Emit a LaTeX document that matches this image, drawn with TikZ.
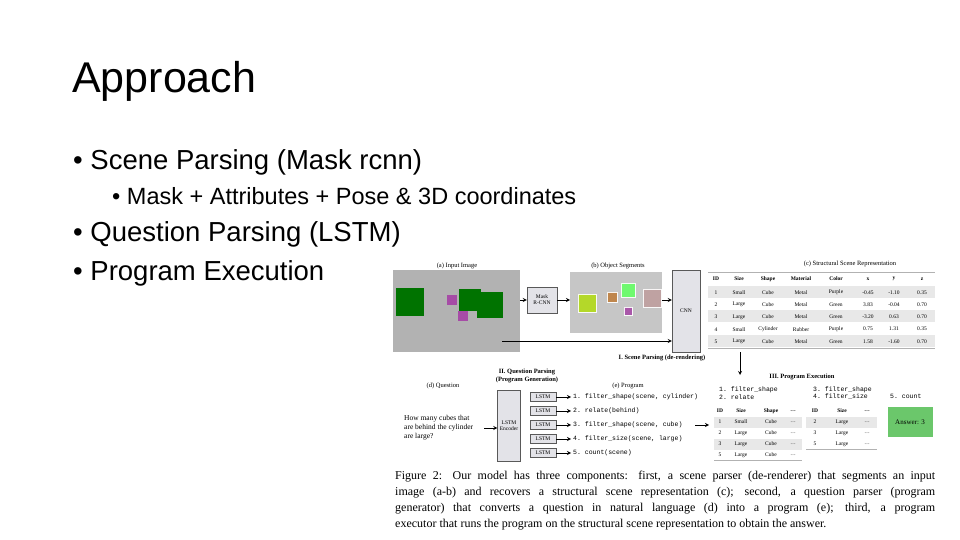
\documentclass[tikz,border=0pt]{standalone}
\usepackage{fontspec}
\setmainfont{Liberation Serif}
\setsansfont{Liberation Sans}
\setmonofont{Liberation Mono}
\usetikzlibrary{positioning}
\usetikzlibrary{calc}

\tikzset{
	slide/.style={font=\sffamily, anchor=west, inner sep=0},
	figtext/.style={font=\fontsize{6.5}{7.5}\selectfont, inner sep=0},
	figbold/.style={font=\fontsize{6.5}{7.5}\selectfont\bfseries, inner sep=0, align=center},
	code/.style={font=\ttfamily\fontsize{6.5}{7.5}\selectfont, inner sep=0, anchor=west},
	box/.style={draw=gray!70!black, fill=blue!8!gray!20, align=center, inner sep=0},
	lstm/.style={box, minimum width=26pt, minimum height=9pt, font=\fontsize{5.5}{6}\selectfont},
	cell/.style={font=\fontsize{5.5}{6}\selectfont, inner sep=0},
	arr/.style={->, >=stealth, line width=0.8pt}
}

\begin{document}
\begin{tikzpicture}[x=1pt, y=-1pt]
	\useasboundingbox[fill=white] (0,0) rectangle (960,540);

	% slide text
	\node [slide, font=\sffamily\fontsize{43}{46}\selectfont] (title) at (72,81) {Approach};
	\node [slide, font=\sffamily\fontsize{27.5}{30}\selectfont] (b1) at (73,162) {\textbullet\ Scene Parsing (Mask rcnn)};
	\node [slide, font=\sffamily\fontsize{23.5}{26}\selectfont] (b1a) at (112,196) {\textbullet\ Mask + Attributes + Pose \& 3D coordinates};
	\node [slide, font=\sffamily\fontsize{27.5}{30}\selectfont] (b2) at (73,234) {\textbullet\ Question Parsing (LSTM)};
	\node [slide, font=\sffamily\fontsize{27.5}{30}\selectfont] (b3) at (73,273) {\textbullet\ Program Execution};

	% I. scene parsing
	\node [figtext] at (457,266) (lbl_a){(a) Input Image};
	\node [fill=gray!60, minimum width=127pt, minimum height=82pt, inner sep=0, anchor=north west] at (393,270) (input){};
	\foreach \cx/\cy/\s/\c in {410/302/14/green!45!black, 490/305/13/green!45!black, 470/300/11/green!45!black, 452/300/5/violet!70, 463/316/5/violet!70}
		\fill [\c] (\cx-\s,\cy-\s) rectangle (\cx+\s,\cy+\s);
	\node [box, minimum width=30pt, minimum height=26pt, font=\fontsize{5.5}{6}\selectfont] at (542,300) (maskrcnn){Mask\\R-CNN};
	\node [figtext] at (618,266) (lbl_b){(b) Object Segments};
	\node [fill=gray!45, minimum width=92pt, minimum height=61pt, inner sep=0, anchor=north west] at (570,272) (segments){};
	\foreach \cx/\cy/\s/\c in {587/303/9/yellow!70!green, 612/297/5/orange!50!gray, 628/290/7/green!60, 652/298/9/pink!50!gray, 628/311/4/violet!70}
		\filldraw [fill=\c, draw=white, opacity=0.9] (\cx-\s,\cy-\s) rectangle (\cx+\s,\cy+\s);
	\node [box, minimum width=28pt, minimum height=82pt, font=\fontsize{5.5}{6}\selectfont] at (686,311) (cnn){CNN};
	\draw [arr] (input.east |- maskrcnn) -- (maskrcnn);
	\draw [arr] (maskrcnn) -- (segments.west |- maskrcnn);
	\draw [arr] (segments.east |- maskrcnn) -- (cnn.west |- maskrcnn);
	\coordinate (input_low) at (502,341);
	\draw [arr] (input_low) -- (cnn.west |- input_low);

	% structural scene table
	\node [figtext] at (850,264) (lbl_c){(c) Structural Scene Representation};
	\foreach \yy in {286,310,335} \fill [gray!18] (708,\yy) rectangle (935,\yy+12);
	\draw [gray!60] (708,272) -- (935,272);
	\draw [gray!60] (708,348) -- (935,348);
	\foreach \t/\xx in {ID/716, Size/739, Shape/768, Material/801, Color/836, x/868, y/894, z/922}
		\node [cell, font=\fontsize{5.5}{6}\selectfont\bfseries] at (\xx,279) {\t};
	\foreach \r/\a/\b/\c/\d/\e/\f/\g/\h in {1/1/Small/Cube/Metal/Purple/-0.45/-1.10/0.35, 2/2/Large/Cube/Metal/Green/3.83/-0.04/0.70, 3/3/Large/Cube/Metal/Green/-3.20/0.63/0.70, 4/4/Small/Cylinder/Rubber/Purple/0.75/1.31/0.35, 5/5/Large/Cube/Metal/Green/1.58/-1.60/0.70}
	{
		\pgfmathsetmacro{\yy}{280+12.3*\r}
		\node [cell] at (716,\yy) {\a};
		\node [cell] at (739,\yy) {\b};
		\node [cell] at (768,\yy) {\c};
		\node [cell] at (801,\yy) {\d};
		\node [cell] at (836,\yy) {\e};
		\node [cell] at (868,\yy) {\f};
		\node [cell] at (894,\yy) {\g};
		\node [cell] at (922,\yy) {\h};
	}
	\node [figbold] at (662,358) (lbl_one){I. Scene Parsing (de-rendering)};
	\coordinate (down_top) at (740,352);
	\coordinate (down_end) at (740,375);
	\draw [arr] (down_top) -- (down_end);

	% II. question parsing
	\node [figbold] at (527,376) (lbl_two){II. Question Parsing\\(Program Generation)};
	\node [figtext] at (443,386) (lbl_d){(d) Question};
	\node [figtext, font=\fontsize{7.5}{9}\selectfont, align=left, anchor=west] at (404,428) (question){How many cubes that\\are behind the cylinder\\are large?};
	\node [figtext] at (628,386) (lbl_e){(e) Program};
	\node [box, minimum width=23pt, minimum height=71pt, font=\fontsize{5.5}{6}\selectfont] at (509,426) (encoder){LSTM\\Encoder};
	\coordinate (q_out) at (484,428);
	\draw [arr] (q_out) -- (encoder.west |- q_out);
	\foreach \p [count=\i] in {filter\_shape(scene{,} cylinder), relate(behind), filter\_shape(scene{,} cube), filter\_size(scene{,} large), count(scene)}
	{
		\node [lstm] at (543,383+14*\i) (lstm\i){LSTM};
		\node [code] at (573,383+14*\i) (prog\i){\i. \p};
		\draw [arr, shorten >=2pt] (lstm\i) -- (prog\i);
	}
	\coordinate (prog_out) at (695,425);
	\coordinate (exec_in) at (709,425);
	\draw [arr] (prog_out) -- (exec_in);

	% III. program execution
	\node [figbold] at (802,377) (lbl_three){III. Program Execution};
	\node [code, align=left] at (719,393) (steps12){1. filter\_shape\\2. relate};
	\node [code, align=left] at (813,393) (steps34){3. filter\_shape\\4. filter\_size};
	\node [code] at (890,396) (step5){5. count};
	\fill [gray!18] (714,417) rectangle (802,428);
	\fill [gray!18] (714,439) rectangle (802,450);
	\fill [gray!18] (806,417) rectangle (877,428);
	\foreach \t/\xx in {ID/720, Size/741, Shape/771, \dots/793, ID/815, Size/842, \dots/867}
		\node [cell, font=\fontsize{5.5}{6}\selectfont\bfseries] at (\xx,411) {\t};
	\foreach \a/\b/\c [count=\r] in {1/Small/Cube, 2/Large/Cube, 3/Large/Cube, 5/Large/Cube}
	{
		\node [cell] at (720,411+11*\r) {\a};
		\node [cell] at (741,411+11*\r) {\b};
		\node [cell] at (771,411+11*\r) {\c};
		\node [cell] at (793,411+11*\r) {\dots};
	}
	\foreach \a [count=\r] in {2,3,5}
	{
		\node [cell] at (815,411+11*\r) {\a};
		\node [cell] at (842,411+11*\r) {Large};
		\node [cell] at (867,411+11*\r) {\dots};
	}
	\draw [gray!60] (714,460) -- (802,460);
	\draw [gray!60] (806,449) -- (877,449);
	\node [fill=green!45!gray!80, minimum width=45pt, minimum height=30pt, font=\fontsize{7}{8}\selectfont, inner sep=0] at (910,422) (answer){Answer: 3};

	% caption
	\node [inner sep=0, anchor=west, font=\fontsize{12}{14}\selectfont] at (395,477) (cap1){\makebox[540pt][s]{Figure 2: Our model has three components: first, a scene parser (de-renderer) that segments an input}};
	\node [inner sep=0, anchor=west, font=\fontsize{12}{14}\selectfont] at (395,493) (cap2){\makebox[540pt][s]{image (a-b) and recovers a structural scene representation (c); second, a question parser (program}};
	\node [inner sep=0, anchor=west, font=\fontsize{12}{14}\selectfont] at (395,509) (cap3){\makebox[540pt][s]{generator) that converts a question in natural language (d) into a program (e); third, a program}};
	\node [inner sep=0, anchor=west, font=\fontsize{12}{14}\selectfont] at (395,525) (cap4){executor that runs the program on the structural scene representation to obtain the answer.};
\end{tikzpicture}
\end{document}
